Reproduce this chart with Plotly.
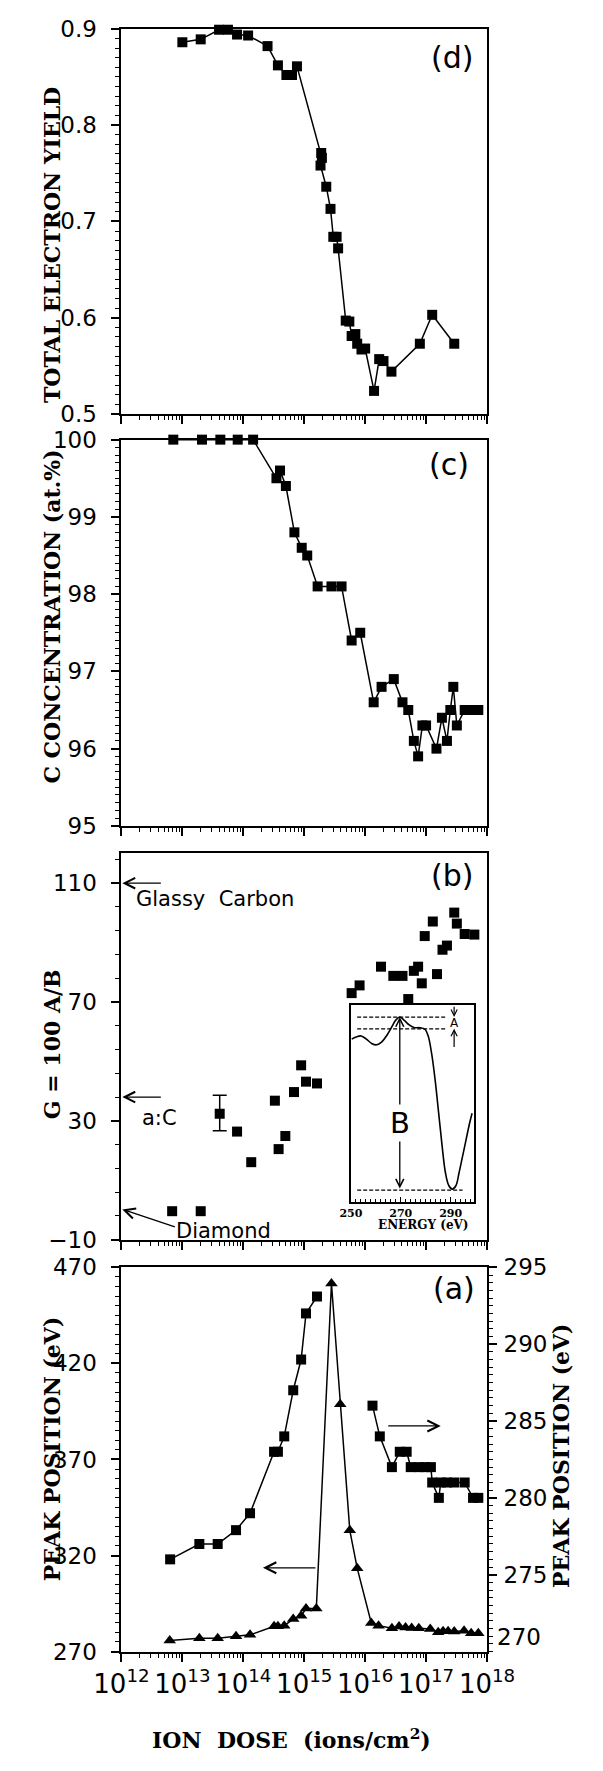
import plotly.graph_objects as go

W, H = 603, 1771

# ---------------- data ----------------
# (d) total electron yield
dose_d = [1.0e13, 2.0e13, 4.0e13, 5.6e13, 7.9e13, 1.2e14, 2.5e14, 3.7e14, 5.1e14, 6.3e14, 7.6e14,
          1.9e15, 1.95e15, 1.85e15, 2.3e15, 2.7e15, 3.0e15, 3.4e15, 3.6e15, 4.8e15, 5.5e15, 6.0e15,
          6.9e15, 7.4e15, 8.7e15, 1.0e16, 1.4e16, 1.7e16, 2.0e16, 2.7e16, 7.9e16, 1.26e17, 2.9e17]
yield_d = [0.886, 0.889, 0.899, 0.899, 0.894, 0.893, 0.882, 0.862, 0.852, 0.852, 0.861,
           0.771, 0.766, 0.758, 0.736, 0.713, 0.684, 0.684, 0.672, 0.597, 0.596, 0.581,
           0.583, 0.573, 0.567, 0.568, 0.524, 0.557, 0.555, 0.544, 0.573, 0.603, 0.573]

# (c) C concentration (at.%)
dose_c = [7.1e12, 2.1e13, 4.2e13, 8.1e13, 1.45e14, 3.5e14, 4.0e14, 5.0e14, 6.9e14, 9.1e14, 1.12e15,
          1.66e15, 2.8e15, 4.1e15, 6.0e15, 8.3e15, 1.38e16, 1.86e16, 2.95e16, 4.1e16, 5.1e16, 6.3e16,
          7.4e16, 8.7e16, 1.0e17, 1.48e17, 1.82e17, 2.2e17, 2.5e17, 2.8e17, 3.2e17, 4.3e17, 5.5e17, 7.2e17]
conc_c = [100, 100, 100, 100, 100, 99.5, 99.6, 99.4, 98.8, 98.6, 98.5,
          98.1, 98.1, 98.1, 97.4, 97.5, 96.6, 96.8, 96.9, 96.6, 96.5, 96.1,
          95.9, 96.3, 96.3, 96.0, 96.4, 96.1, 96.5, 96.8, 96.3, 96.5, 96.5, 96.5]

# (b) G = 100 A/B
dose_b = [6.8e12, 2.0e13, 7.9e13, 1.35e14, 3.3e14, 3.8e14, 4.9e14, 6.8e14, 8.9e14, 1.07e15, 1.62e15,
          6.0e15, 8.1e15, 1.82e16, 2.9e16, 4.1e16, 5.1e16, 6.3e16, 7.4e16, 8.5e16, 9.5e16,
          1.29e17, 1.51e17, 1.86e17, 2.2e17, 2.9e17, 3.2e17, 4.3e17, 6.2e17]
g_b = [-0.4, -0.4, 26.4, 16.1, 36.8, 20.5, 24.9, 39.7, 48.7, 43.2, 42.6,
       73.0, 75.6, 81.9, 78.8, 78.8, 71.0, 80.5, 81.9, 76.3, 92.2,
       97.1, 79.4, 87.6, 89.0, 100.1, 96.4, 92.9, 92.7]
dose_err = [4.1e13]
g_err = [32.4]
err_plus = [6.2]
err_minus = [5.7]
ref_levels = [110, 38, 0.2]   # glassy carbon, a:C, diamond

# (b) inset spectrum
inset_energy = [250.3, 252.1, 254.1, 256.2, 258.3, 260.3, 262.4, 264.5, 266.6, 267.9,
                269.6, 271.4, 273.4, 275.5, 277.6, 279.7, 281.0, 282.4, 283.8, 285.2,
                286.6, 287.9, 289.3, 290.7, 292.1, 293.4, 294.8, 296.2, 297.6, 298.6]
inset_signal = [0.828, 0.839, 0.844, 0.828, 0.806, 0.799, 0.814, 0.849, 0.895, 0.923,
                0.940, 0.923, 0.900, 0.886, 0.886, 0.878, 0.844, 0.753, 0.619, 0.452,
                0.284, 0.151, 0.084, 0.067, 0.084, 0.151, 0.234, 0.318, 0.401, 0.452]

# (a) peak positions
dose_tri = [6.2e12, 1.9e13, 3.8e13, 7.6e13, 1.29e14, 3.2e14, 3.7e14, 4.7e14, 6.6e14, 8.9e14, 1.07e15,
            1.58e15, 2.8e15, 3.9e15, 5.6e15, 7.4e15, 1.26e16, 1.66e16, 2.75e16, 3.6e16, 4.6e16,
            5.8e16, 7.6e16, 1.17e17, 1.58e17, 1.9e17, 2.3e17, 2.9e17, 4.2e17, 5.5e17, 7.2e17]
peak_tri = [275.8, 277.0, 277.0, 278.0, 278.7, 283.2, 283.2, 283.5, 286.9, 288.6, 292.4,
            292.4, 461.6, 398.7, 333.1, 313.4, 284.9, 283.5, 282.1, 283.0, 282.6,
            282.3, 282.1, 281.8, 280.1, 280.6, 280.6, 280.4, 280.9, 279.6, 279.6]
dose_sq1 = [6.3e12, 1.9e13, 3.8e13, 7.6e13, 1.29e14, 3.2e14, 3.7e14, 4.7e14, 6.6e14, 8.9e14, 1.07e15, 1.62e15]
peak_sq1 = [276.0, 277.0, 277.0, 277.9, 279.0, 283.0, 283.0, 284.0, 287.0, 289.0, 292.0, 293.1]
dose_sq2 = [1.32e16, 1.74e16, 2.75e16, 3.7e16, 4.8e16, 5.6e16, 7.6e16, 9.8e16, 1.2e17, 1.26e17,
            1.62e17, 1.74e17, 2.2e17, 2.9e17, 4.3e17, 5.9e17, 7.2e17]
peak_sq2 = [286, 284, 282, 283, 283, 282, 282, 282, 282, 281, 280, 281, 281, 281, 281, 280, 280]

decades = list(range(12, 19))
x_tickvals = [10.0 ** k for k in decades]
x_ticktext = ["10<sup>%d</sup>" % k for k in decades]
x_minorvals = [m * 10.0 ** k for k in range(12, 18) for m in range(2, 10)]

# ---------------- layout helpers ----------------
XL, XR = 103, 506


def px_x(px):
    return px / W


def px_y(py):
    return 1 - py / H


def ydom(top, bottom):
    return [1 - bottom / H, 1 - top / H]


BLACK = "black"
TICKFONT = dict(family="DejaVu Sans", size=23, color=BLACK)


def xaxis(show_labels=False, anchor="y"):
    d = dict(type="log", range=[12, 18], domain=[XL / W, XR / W], anchor=anchor,
             showline=True, linewidth=2, linecolor=BLACK, mirror=True,
             ticks="outside", ticklen=8, tickwidth=1.5, tickcolor=BLACK,
             tickmode="array", tickvals=x_tickvals, ticktext=x_ticktext,
             minor=dict(ticks="outside", ticklen=4, tickwidth=1.2, tickcolor=BLACK,
                        tickmode="array", tickvals=x_minorvals),
             showgrid=False, zeroline=False, showticklabels=show_labels,
             tickfont=dict(family="DejaVu Sans", size=26, color=BLACK))
    return d


def yaxis(rng, dom, dtick, minor_dtick, anchor, fmt=None, tick0=None, minor_tick0=None, **kw):
    d = dict(range=rng, domain=dom, anchor=anchor, showline=True, linewidth=2, linecolor=BLACK,
             mirror=True, ticks="outside", ticklen=8, tickwidth=1.5, tickcolor=BLACK,
             dtick=dtick, tick0=rng[0] if tick0 is None else tick0,
             minor=dict(ticks="outside", ticklen=4, tickwidth=1.2, tickcolor=BLACK, dtick=minor_dtick,
                        tick0=rng[0] if minor_tick0 is None else minor_tick0),
             showgrid=False, zeroline=False, tickfont=TICKFONT, ticklabelstandoff=10)
    if fmt:
        d["tickformat"] = fmt
    d.update(kw)
    return d


sq = dict(symbol="square", size=10, color=BLACK, line=dict(width=0))
tri = dict(symbol="triangle-up", size=11, color=BLACK, line=dict(width=0))
ln = dict(color=BLACK, width=1.5)

fig = go.Figure()

# (d)
fig.add_trace(go.Scatter(x=dose_d, y=yield_d, mode="lines+markers", marker=sq, line=ln,
                         xaxis="x", yaxis="y", cliponaxis=False))
# (c)
fig.add_trace(go.Scatter(x=dose_c, y=conc_c, mode="lines+markers", marker=sq, line=ln,
                         xaxis="x2", yaxis="y2", cliponaxis=False))
# (b)
fig.add_trace(go.Scatter(x=dose_b, y=g_b, mode="markers", marker=sq,
                         xaxis="x3", yaxis="y3", cliponaxis=False))
fig.add_trace(go.Scatter(x=dose_err, y=g_err, mode="markers", marker=sq,
                         error_y=dict(type="data", symmetric=False, array=err_plus, arrayminus=err_minus,
                                      width=7, thickness=1.5, color=BLACK),
                         xaxis="x3", yaxis="y3", cliponaxis=False))
# inset
fig.add_trace(go.Scatter(x=inset_energy, y=inset_signal, mode="lines",
                         line=dict(color=BLACK, width=1.6, shape="spline"),
                         xaxis="x5", yaxis="y6"))
# (a)
fig.add_trace(go.Scatter(x=dose_tri, y=peak_tri, mode="lines+markers", marker=tri, line=ln,
                         xaxis="x4", yaxis="y4", cliponaxis=False))
fig.add_trace(go.Scatter(x=dose_sq1, y=peak_sq1, mode="lines+markers", marker=sq, line=ln,
                         xaxis="x4", yaxis="y5", cliponaxis=False))
fig.add_trace(go.Scatter(x=dose_sq2, y=peak_sq2, mode="lines+markers", marker=sq, line=ln,
                         xaxis="x4", yaxis="y5", cliponaxis=False))

dom_d = ydom(16, 407)
dom_c = ydom(433, 825)
dom_b = ydom(853, 1245)
dom_a = ydom(1273, 1663)

fig.update_layout(
    width=W, height=H, autosize=False,
    margin=dict(l=0, r=0, t=0, b=0),
    paper_bgcolor="white", plot_bgcolor="white",
    showlegend=False,
    xaxis=xaxis(anchor="y"),
    xaxis2=xaxis(anchor="y2"),
    xaxis3=xaxis(anchor="y3"),
    xaxis4=xaxis(show_labels=True, anchor="y4"),
    yaxis=yaxis([0.5, 0.9], dom_d, 0.1, 0.01, "x", fmt=".1f"),
    yaxis2=yaxis([95, 100], dom_c, 1, 0.1, "x2"),
    yaxis3=yaxis([-10, 120], dom_b, 40, 8, "x3", tick0=-10, minor_tick0=-10),
    yaxis4=yaxis([270, 470], dom_a, 50, 5, "x4"),
    yaxis5=dict(range=[270, 295], overlaying="y4", side="right", anchor="x4",
                showline=True, linewidth=2, linecolor=BLACK,
                ticks="outside", ticklen=8, tickwidth=1.5, tickcolor=BLACK,
                tickmode="array", tickvals=[275, 280, 285, 290, 295],
                minor=dict(ticks="outside", ticklen=4, tickwidth=1.2, tickcolor=BLACK, dtick=0.5, tick0=270),
                showgrid=False, zeroline=False, tickfont=TICKFONT, ticklabelstandoff=2),
    xaxis5=dict(range=[250, 299.5], domain=[356 / W, 492 / W], anchor="y6",
                showline=True, linewidth=1.6, linecolor=BLACK, mirror=True,
                ticks="inside", ticklen=5, tickwidth=1.2, tickcolor=BLACK,
                tickmode="array", tickvals=[250, 270, 290],
                ticktext=["<b>250</b>", "<b>270</b>", "<b>290</b>"],
                minor=dict(ticks="inside", ticklen=3, tickwidth=1, tickcolor=BLACK, dtick=2, tick0=250),
                showgrid=False, zeroline=False, ticklabelstandoff=0,
                tickfont=dict(family="DejaVu Serif", size=11, color=BLACK)),
    yaxis6=dict(range=[0, 1], domain=ydom(1007, 1207), anchor="x5",
                showline=True, linewidth=1.6, linecolor=BLACK, mirror=True,
                ticks="", showticklabels=False, showgrid=False, zeroline=False),
)

# dashed reference lines in the inset
dash_lines = [(252.5, 288.6, 0.94), (252.5, 288.6, 0.88), (252.5, 294.8, 0.062)]
for x0, x1, yv in dash_lines:
    fig.add_shape(type="line", xref="x5", yref="y6", x0=x0, x1=x1, y0=yv, y1=yv,
                  line=dict(color=BLACK, width=1.2, dash="4px,2px"))

ann = []
TITLEFONT = dict(family="DejaVu Serif", size=22, color=BLACK)
LABELFONT = dict(family="DejaVu Sans", size=30, color=BLACK)
TEXTFONT = dict(family="DejaVu Sans", size=21, color=BLACK)
NB = "\u00a0"


def ptext(text, cx, cy, font, xanchor="center", **kw):
    return dict(text=text, x=px_x(cx), y=px_y(cy), xref="paper", yref="paper",
                xanchor=xanchor, yanchor="middle", showarrow=False, font=font, **kw)


# y titles
for text, cx, cy in [("<b>TOTAL ELECTRON YIELD</b>", 26, 236),
                     ("<b>C CONCENTRATION (at.%)</b>", 26, 613),
                     ("<b>G = 100 A/B</b>", 26, 1047),
                     ("<b>PEAK POSITION (eV)</b>", 26, 1457),
                     ("<b>PEAK POSITION (eV)</b>", 587, 1464)]:
    ann.append(ptext(text, cx, cy, TITLEFONT, textangle=-90))

ann.append(ptext("<b>ION" + NB + " DOSE" + NB + " (ions/cm<sup>2</sup>)</b>", 291, 1752,
                 dict(family="DejaVu Serif", size=22, color=BLACK)))

# panel labels
for text, cx, cy in [("(d)", 467, 45), ("(c)", 464, 458), ("(b)", 467, 875), ("(a)", 470, 1294)]:
    ann.append(ptext(text, cx, cy, LABELFONT))

# right axis "270" label (drawn raised like the original)
ann.append(ptext("270", 515, 1648, TICKFONT, xanchor="left"))

# (b) reference arrows
for lvl, dx, dy in [(ref_levels[0], 40, 0), (ref_levels[1], 40, 0), (ref_levels[2], 54, 18)]:
    ann.append(dict(text="", x=px_x(XL + 1), y=lvl, xref="paper", yref="y3",
                    ax=dx, ay=dy, axref="pixel", ayref="pixel",
                    showarrow=True, arrowhead=5, arrowsize=1.6, arrowwidth=1.3, arrowcolor=BLACK))
ann.append(dict(text="Glassy" + NB + " Carbon", x=px_x(117), y=104.6, xref="paper", yref="y3",
                xanchor="left", yanchor="middle", showarrow=False, font=TEXTFONT))
ann.append(dict(text="a:C", x=px_x(124), y=31.0, xref="paper", yref="y3",
                xanchor="left", yanchor="middle", showarrow=False, font=TEXTFONT))
ann.append(dict(text="Diamond", x=px_x(161), y=-7.0, xref="paper", yref="y3",
                xanchor="left", yanchor="middle", showarrow=False, font=TEXTFONT))

# inset arrows and letters
ann.append(dict(text="", x=269.6, y=0.94, ax=269.6, ay=0.062, xref="x5", yref="y6", axref="x5", ayref="y6",
                showarrow=True, arrowhead=5, arrowside="end+start", arrowsize=1.2, arrowwidth=1.3,
                arrowcolor=BLACK))
ann.append(dict(text="B", x=269.6, y=0.40, xref="x5", yref="y6", showarrow=False, bgcolor="white",
                xanchor="center", yanchor="middle",
                font=dict(family="DejaVu Sans", size=29, color=BLACK)))
ann.append(dict(text="", x=291.4, y=0.94, ax=291.4, ay=1.0, xref="x5", yref="y6", axref="x5", ayref="y6",
                showarrow=True, arrowhead=5, arrowsize=1.0, arrowwidth=1.2, arrowcolor=BLACK))
ann.append(dict(text="", x=291.4, y=0.88, ax=291.4, ay=0.78, xref="x5", yref="y6", axref="x5", ayref="y6",
                showarrow=True, arrowhead=5, arrowsize=1.0, arrowwidth=1.2, arrowcolor=BLACK))
ann.append(dict(text="A", x=291.4, y=0.91, xref="x5", yref="y6", showarrow=False,
                xanchor="center", yanchor="middle",
                font=dict(family="DejaVu Sans", size=12, color=BLACK)))
ann.append(ptext("<b>ENERGY (eV)</b>", 436, 1230, dict(family="DejaVu Serif", size=12, color=BLACK)))

# (a) direction arrows
ann.append(dict(text="", x=px_x(259), y=px_y(1578), xref="paper", yref="paper", ax=54, ay=0,
                showarrow=True, arrowhead=5, arrowsize=1.8, arrowwidth=1.2, arrowcolor=BLACK))
ann.append(dict(text="", x=px_x(455), y=px_y(1434), xref="paper", yref="paper", ax=-54, ay=0,
                showarrow=True, arrowhead=5, arrowsize=1.8, arrowwidth=1.2, arrowcolor=BLACK))

fig.update_layout(annotations=ann)

fig.write_html("out.html", config={"displayModeBar": False},
               post_script="document.body.style.margin='0px';document.body.style.overflow='hidden';")
